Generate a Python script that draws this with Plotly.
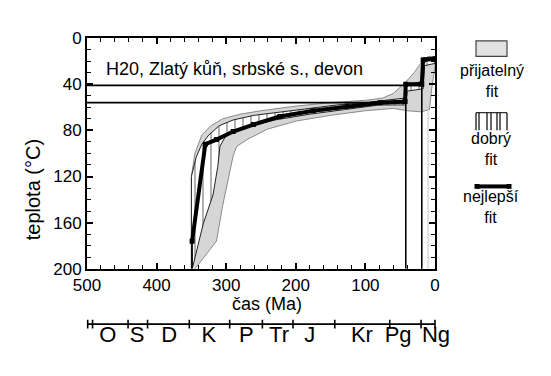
import plotly.graph_objects as go

# ---------------- data ----------------
# acceptable-fit envelope: cool side (old -> young), hot side (young -> old)
acc_cool_t = [350, 350, 345, 335, 322, 305, 280, 250, 200, 150, 100, 75, 60, 45, 30, 18, 10, 0]
acc_cool_T = [200, 120, 100, 84, 76, 70, 66, 63, 59, 56, 54, 52, 48, 40, 30, 20, 16, 16]
acc_hot_t = [0, 5, 8, 20, 40, 60, 100, 150, 200, 241, 270, 285, 290, 305, 314, 345]
acc_hot_T = [25, 45, 62, 64, 63, 61, 63, 67, 72, 79, 88, 94, 102, 145, 176, 200]

# good-fit envelope
good_cool_t = [350, 350, 343, 335, 325, 310, 290, 260, 220, 180, 140, 100, 70, 50, 43, 42, 19, 17, 0]
good_cool_T = [200, 120, 103, 92, 84, 76, 71, 67, 64, 61, 58, 56, 54, 53, 52, 40, 38, 17, 17]
good_hot_t = [0, 15, 17, 40, 42, 80, 130, 180, 230, 270, 300, 309, 312, 319, 333, 348]
good_hot_T = [22, 24, 44, 46, 58, 58, 62, 66, 71, 77, 84, 94, 111, 136, 161, 198]

# best-fit path
best_t = [349, 330, 314, 290, 261, 223, 175, 126, 79, 43, 42, 19, 17, 0]
best_T = [176, 92, 88, 81, 75, 68, 63, 59, 56, 55, 40, 40, 19, 18]

# constraint boxes (x path, y path)
box1_t = [500, 19, 19]
box1_T = [41, 41, 200]
box2_t = [500, 42, 42]
box2_T = [56, 56, 200]
box3_t = [349, 349]
box3_T = [176, 200]
faint_t = [10, 10]
faint_T = [60, 200]

# geological time scale
period_bounds = [499, 492, 441, 413, 353, 295, 248, 204, 144, 65, 20, 0]
period_names = ["O", "S", "D", "K", "P", "Tr", "J", "Kr", "Pg", "Ng"]
period_label_t = [470, 428, 382, 325, 271, 224, 180, 105, 53, -1.5]

x_ticks = [500, 400, 300, 200, 100, 0]
y_ticks = [0, 40, 80, 120, 160, 200]

title_text = "H20, Zlatý kůň, srbské s., devon"
FONT = "Liberation Sans, Arial, sans-serif"

# ---------------- figure ----------------
fig = go.Figure()

fig.add_trace(go.Scatter(
    x=acc_cool_t + acc_hot_t, y=acc_cool_T + acc_hot_T,
    fill="toself", fillcolor="#d6d6d6", mode="lines",
    line=dict(color="#8a8a8a", width=1), hoverinfo="skip", showlegend=False))

fig.add_trace(go.Scatter(
    x=faint_t, y=faint_T, mode="lines", line=dict(color="#c8c8c8", width=1),
    hoverinfo="skip", showlegend=False))

fig.add_trace(go.Scatter(
    x=good_cool_t + good_hot_t, y=good_cool_T + good_hot_T,
    fill="toself", fillcolor="white", mode="lines",
    fillpattern=dict(shape="|", fgcolor="black", bgcolor="white", size=8, solidity=0.15),
    line=dict(color="#222", width=1), hoverinfo="skip", showlegend=False))

for bx, by in [(box1_t, box1_T), (box2_t, box2_T), (box3_t, box3_T)]:
    fig.add_trace(go.Scatter(x=bx, y=by, mode="lines",
                             line=dict(color="black", width=1.6),
                             hoverinfo="skip", showlegend=False))

fig.add_trace(go.Scatter(
    x=best_t, y=best_T, mode="lines+markers",
    line=dict(color="black", width=4),
    marker=dict(symbol="square", size=5, color="black"),
    hoverinfo="skip", showlegend=False))

# time scale (second axis)
ts_x, ts_y = [period_bounds[0], period_bounds[-1]], [0, 0]
fig.add_trace(go.Scatter(x=ts_x, y=ts_y, mode="lines", line=dict(color="black", width=1.8),
                         xaxis="x2", yaxis="y2", hoverinfo="skip", showlegend=False))
tx, ty = [], []
for b in period_bounds:
    tx += [b, b, None]
    ty += [-0.35, 0.35, None]
fig.add_trace(go.Scatter(x=tx, y=ty, mode="lines", line=dict(color="black", width=1.6),
                         xaxis="x2", yaxis="y2", hoverinfo="skip", showlegend=False))
fig.add_trace(go.Scatter(x=period_label_t, y=[-0.95] * len(period_names), mode="text",
                         text=period_names, textposition="middle center",
                         textfont=dict(family=FONT, size=22, color="black"),
                         cliponaxis=False, xaxis="x2", yaxis="y2",
                         hoverinfo="skip", showlegend=False))

# ---------------- layout ----------------
# the page body adds an 8 px offset; the figure is sized to compensate
OFF = 8
W, H = 551 - OFF, 376 - OFF
AX_L, AX_R = 87, 435                 # main axes, reference pixels
PAPER_L, PAPER_R, PAPER_T, PAPER_B = 70, 460, 38, 372
PW, PH = PAPER_R - PAPER_L, PAPER_B - PAPER_T
L, T = PAPER_L - OFF, PAPER_T - OFF
R, B = W - L - PW, H - T - PH


def px(xp):
    return (xp - PAPER_L) / PW


def py(yp):
    return (PAPER_B - yp) / PH


def ma_at(xp):
    return 500 * (AX_R - xp) / (AX_R - AX_L)


TS_L, TS_R = 78, 452

fig.update_layout(
    width=W, height=H,
    margin=dict(l=L, r=R, t=T, b=B),
    paper_bgcolor="white", plot_bgcolor="white",
    font=dict(family=FONT, size=17, color="black"),
    xaxis=dict(range=[500, 0], domain=[px(AX_L), px(AX_R)], anchor="y",
               tickvals=x_ticks, ticks="inside", ticklen=6, tickwidth=1.5, tickcolor="black",
               minor=dict(dtick=20, ticks="inside", ticklen=4, tickwidth=1.3, tickcolor="black"),
               showline=True, linewidth=2, linecolor="black", mirror="ticks",
               showgrid=False, zeroline=False, tickfont=dict(size=17)),
    yaxis=dict(range=[200, 0], domain=[py(276), 1], anchor="x",
               tickvals=y_ticks, ticks="inside", ticklen=6, tickwidth=1.5, tickcolor="black",
               minor=dict(dtick=10, ticks="inside", ticklen=4, tickwidth=1.3, tickcolor="black"),
               showline=True, linewidth=2, linecolor="black", mirror="ticks",
               showgrid=False, zeroline=False, tickfont=dict(size=17)),
    xaxis2=dict(range=[ma_at(TS_L), ma_at(TS_R)], domain=[px(TS_L), px(TS_R)],
                anchor="y2", visible=False),
    yaxis2=dict(range=[-3, 1], domain=[0, py(320)], anchor="x2", visible=False),
)

ann = [
    dict(text=title_text, x=px(104), y=py(70), xanchor="left", size=18),
    dict(text="čas (Ma)", x=px(267), y=py(312), xanchor="center", size=18),
    dict(text="přijatelný<br>fit", x=px(492), y=py(82), xanchor="center", size=16),
    dict(text="dobrý<br>fit", x=px(491), y=py(152), xanchor="center", size=16),
    dict(text="nejlepší<br>fit", x=px(491), y=py(212), xanchor="center", size=16),
]
annotations = [dict(text=a["text"], x=a["x"], y=a["y"], xref="paper", yref="paper",
                    xanchor=a["xanchor"], yanchor="middle", showarrow=False,
                    font=dict(size=a["size"], family=FONT, color="black")) for a in ann]
annotations.append(dict(text="teplota (°C)", x=px(33), y=py(195), xref="paper", yref="paper",
                        textangle=-90, showarrow=False, xanchor="center", yanchor="middle",
                        font=dict(size=20, family=FONT, color="black")))
fig.update_layout(annotations=annotations)

# legend keys (custom, symbol above the text)
shapes = [dict(type="rect", xref="paper", yref="paper", x0=px(476), x1=px(507), y0=py(57), y1=py(41),
               fillcolor="#e2e2e2", line=dict(color="#444", width=1.2))]
for xv in [476, 479, 487, 491, 497, 500, 507]:
    shapes.append(dict(type="line", xref="paper", yref="paper", x0=px(xv), x1=px(xv),
                       y0=py(133), y1=py(115), line=dict(color="black", width=1.2)))
shapes.append(dict(type="line", xref="paper", yref="paper", x0=px(476), x1=px(507),
                   y0=py(115), y1=py(115), line=dict(color="black", width=1)))
shapes.append(dict(type="line", xref="paper", yref="paper", x0=px(477), x1=px(509),
                   y0=py(191), y1=py(191), line=dict(color="black", width=4)))
for xv in [477, 509]:
    shapes.append(dict(type="rect", xref="paper", yref="paper", x0=px(xv - 2.5), x1=px(xv + 2.5),
                       y0=py(193.5), y1=py(188.5), fillcolor="black", line=dict(width=0)))
fig.update_layout(shapes=shapes)

fig.write_html("out.html")
